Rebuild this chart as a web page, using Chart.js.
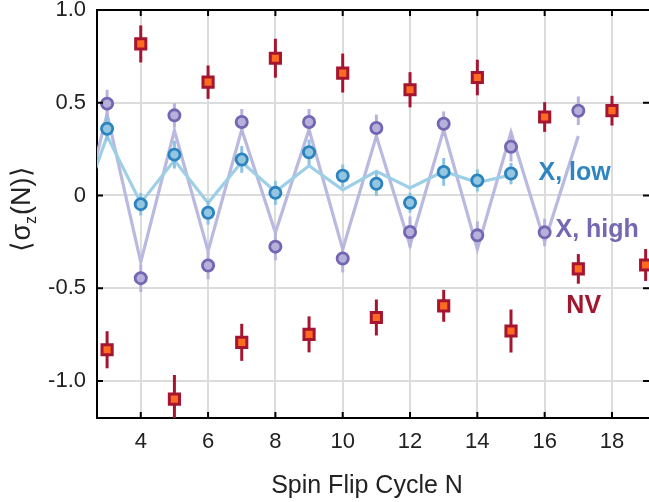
<!DOCTYPE html>
<html>
<head>
<meta charset="utf-8">
<script src="https://cdn.jsdelivr.net/npm/chart.js@4/dist/chart.umd.min.js"></script>
<style>
  html, body { margin: 0; padding: 0; background: #fff; }
  #wrap { width: 649px; height: 502px; position: relative; }
</style>
</head>
<body>
<div id="wrap"><canvas id="chart"></canvas></div>
<script>
// Spin flip cycles (N) for each series
const nvCycles = [3, 4, 5, 6, 7, 8, 9, 10, 11, 12, 13, 14, 15, 16, 17, 18, 19];
const nvValues = [-0.832, 0.817, -1.098, 0.611, -0.792, 0.740, -0.749, 0.660, -0.658, 0.570, -0.595, 0.636, -0.731, 0.423, -0.396, 0.457, -0.375];
const nvErrors = [0.10, 0.10, 0.13, 0.09, 0.10, 0.105, 0.097, 0.105, 0.097, 0.095, 0.086, 0.096, 0.116, 0.08, 0.08, 0.08, 0.086];

const highCycles = [3, 4, 5, 6, 7, 8, 9, 10, 11, 12, 13, 14, 15, 16, 17];
const highValues = [0.495, -0.446, 0.432, -0.378, 0.396, -0.276, 0.396, -0.340, 0.364, -0.197, 0.387, -0.215, 0.263, -0.199, 0.457];
const highErrors = [0.075, 0.074, 0.065, 0.074, 0.07, 0.074, 0.07, 0.075, 0.072, 0.084, 0.066, 0.075, 0.08, 0.074, 0.077];

const lowCycles = [3, 4, 5, 6, 7, 8, 9, 10, 11, 12, 13, 14, 15];
const lowValues = [0.360, -0.047, 0.220, -0.093, 0.194, 0.014, 0.233, 0.106, 0.063, -0.039, 0.127, 0.081, 0.118];
const lowErrors = [0.065, 0.061, 0.075, 0.065, 0.072, 0.065, 0.068, 0.061, 0.066, 0.054, 0.075, 0.06, 0.058];

// simulated curves (lines)
const highFitCycles = [2, 3, 4, 5, 6, 7, 8, 9, 10, 11, 12, 13, 14, 15, 16, 17];
const highFitValues = [-0.29, 0.44, -0.36, 0.35, -0.30, 0.355, -0.20, 0.355, -0.29, 0.32, -0.27, 0.355, -0.29, 0.34, -0.25, 0.32];
const lowFitCycles = [2, 3, 4, 5, 6, 7, 8, 9, 10, 11, 12, 13, 14, 15];
const lowFitValues = [-0.19, 0.32, -0.04, 0.19, -0.04, 0.18, 0.02, 0.16, 0.03, 0.13, 0.04, 0.13, 0.07, 0.11];

// axes
const xTicks = [4, 6, 8, 10, 12, 14, 16, 18];
const yTicks = [-1.0, -0.5, 0, 0.5, 1.0];
const xRange = [2.7, 19.1];
const yRange = [-1.2, 1.0];

const FONT = "'Liberation Sans', Arial, Helvetica, sans-serif";

function pts(xs, ys) {
    return xs.map((x, i) => ({ x: x, y: ys[i] }));
}

// error bars + frame + labels
const decorPlugin = {
    id: "decor",
    beforeDatasetDraw(chart, args) {
        const ds = chart.data.datasets[args.index];
        if (!ds.errors) return;
        const { ctx, chartArea: a, scales } = chart;
        ctx.save();
        ctx.beginPath();
        ctx.rect(a.left, a.top, a.right - a.left, a.bottom - a.top);
        ctx.clip();
        ctx.strokeStyle = ds.errColor;
        ctx.lineWidth = 3;
        ds.data.forEach((p, i) => {
            const px = scales.x.getPixelForValue(p.x);
            ctx.beginPath();
            ctx.moveTo(px, scales.y.getPixelForValue(p.y - ds.errors[i]));
            ctx.lineTo(px, scales.y.getPixelForValue(p.y + ds.errors[i]));
            ctx.stroke();
        });
        ctx.restore();
    },
    afterDraw(chart) {
        const { ctx, chartArea: a, scales } = chart;
        ctx.save();

        // top frame line
        ctx.strokeStyle = "#000";
        ctx.lineWidth = 2;
        ctx.beginPath();
        ctx.moveTo(a.left - 1, a.top);
        ctx.lineTo(a.right, a.top);
        ctx.stroke();

        // inward tick marks
        const tl = 6;
        ctx.beginPath();
        xTicks.forEach(v => {
            const px = scales.x.getPixelForValue(v);
            ctx.moveTo(px, a.bottom); ctx.lineTo(px, a.bottom - tl);
            ctx.moveTo(px, a.top); ctx.lineTo(px, a.top + tl);
        });
        yTicks.forEach(v => {
            const py = scales.y.getPixelForValue(v);
            ctx.moveTo(a.left, py); ctx.lineTo(a.left + tl, py);
            ctx.moveTo(a.right, py); ctx.lineTo(a.right - tl, py);
        });
        ctx.stroke();

        // series labels
        ctx.font = "bold 25px " + FONT;
        ctx.textAlign = "center";
        ctx.textBaseline = "middle";
        ctx.fillStyle = "#2f85c1";
        ctx.fillText("X, low", scales.x.getPixelForValue(16.89), scales.y.getPixelForValue(0.118));
        ctx.fillStyle = "#7468b2";
        ctx.fillText("X, high", scales.x.getPixelForValue(17.56), scales.y.getPixelForValue(-0.188));
        ctx.fillStyle = "#a3162f";
        ctx.fillText("NV", scales.x.getPixelForValue(17.16), scales.y.getPixelForValue(-0.597));

        // x axis title
        ctx.fillStyle = "#222";
        ctx.font = "25px " + FONT;
        ctx.textBaseline = "alphabetic";
        ctx.fillText("Spin Flip Cycle N", 367, 493);

        // y axis title <sigma_z(N)>
        ctx.translate(21, 209);
        ctx.rotate(-Math.PI / 2);
        const big = "27px " + FONT, small = "16px " + FONT;
        ctx.font = big;
        const w1 = ctx.measureText("\u27E8\u03C3").width;
        const w3 = ctx.measureText("(N)\u27E9").width;
        ctx.font = small;
        const w2 = ctx.measureText("z").width + 1;
        let x0 = -(w1 + w2 + w3) / 2;
        ctx.textAlign = "left";
        ctx.font = big;
        ctx.fillText("\u27E8\u03C3", x0, 9);
        ctx.font = small;
        ctx.fillText("z", x0 + w1, 15);
        ctx.font = big;
        ctx.fillText("(N)\u27E9", x0 + w1 + w2, 9);

        ctx.restore();
    }
};

const ctx = document.getElementById("chart").getContext("2d");
new Chart(ctx, {
    type: "scatter",
    data: {
        datasets: [
            {
                label: "NV",
                data: pts(nvCycles, nvValues),
                errors: nvErrors,
                errColor: "#a51530",
                pointStyle: "rect",
                pointRadius: 7.2,
                pointBorderWidth: 3,
                pointBackgroundColor: "#ff6a21",
                pointBorderColor: "#a51530",
                showLine: false,
                order: 0
            },
            {
                label: "X, low",
                data: pts(lowCycles, lowValues),
                errors: lowErrors,
                errColor: "#8cc4e0",
                pointRadius: 5.6,
                pointBorderWidth: 2.8,
                pointBackgroundColor: "#94c6df",
                pointBorderColor: "#2b83c0",
                showLine: false,
                order: 1
            },
            {
                label: "X, high",
                data: pts(highCycles, highValues),
                errors: highErrors,
                errColor: "#b6b4dc",
                pointRadius: 5.6,
                pointBorderWidth: 2.8,
                pointBackgroundColor: "#b4b1da",
                pointBorderColor: "#7466b2",
                showLine: false,
                order: 2
            },
            {
                label: "X, low fit",
                data: pts(lowFitCycles, lowFitValues),
                showLine: true,
                borderColor: "#9dcfe6",
                borderWidth: 3.2,
                pointRadius: 0,
                order: 3
            },
            {
                label: "X, high fit",
                data: pts(highFitCycles, highFitValues),
                showLine: true,
                borderColor: "#bab9df",
                borderWidth: 3.2,
                pointRadius: 0,
                order: 4
            }
        ]
    },
    options: {
        responsive: true,
        maintainAspectRatio: false,
        animation: false,
        layout: { autoPadding: false, padding: { top: 10, right: 0, left: 0, bottom: 0 } },
        plugins: { legend: { display: false }, tooltip: { enabled: false } },
        scales: {
            x: {
                type: "linear",
                min: xRange[0],
                max: xRange[1],
                afterBuildTicks: s => { s.ticks = xTicks.map(v => ({ value: v })); },
                afterFit: s => { s.height = 84; s.paddingLeft = 0; s.paddingRight = 0; },
                grid: { color: "#dcdcdc", lineWidth: 2, drawTicks: false },
                border: { display: true, color: "#000", width: 2 },
                ticks: {
                    padding: 11,
                    color: "#222",
                    font: { family: FONT, size: 22 },
                    maxRotation: 0,
                    callback: v => String(v)
                }
            },
            y: {
                min: yRange[0],
                max: yRange[1],
                afterBuildTicks: s => { s.ticks = yTicks.map(v => ({ value: v })); },
                afterFit: s => { s.width = 97; s.paddingTop = 0; s.paddingBottom = 0; },
                grid: { color: "#dcdcdc", lineWidth: 2, drawTicks: false },
                border: { display: true, color: "#000", width: 2 },
                ticks: {
                    padding: 11,
                    color: "#222",
                    font: { family: FONT, size: 22 },
                    callback: v => (v === 0 ? "0" : v.toFixed(1))
                }
            }
        }
    },
    plugins: [decorPlugin]
});
</script>
</body>
</html>
